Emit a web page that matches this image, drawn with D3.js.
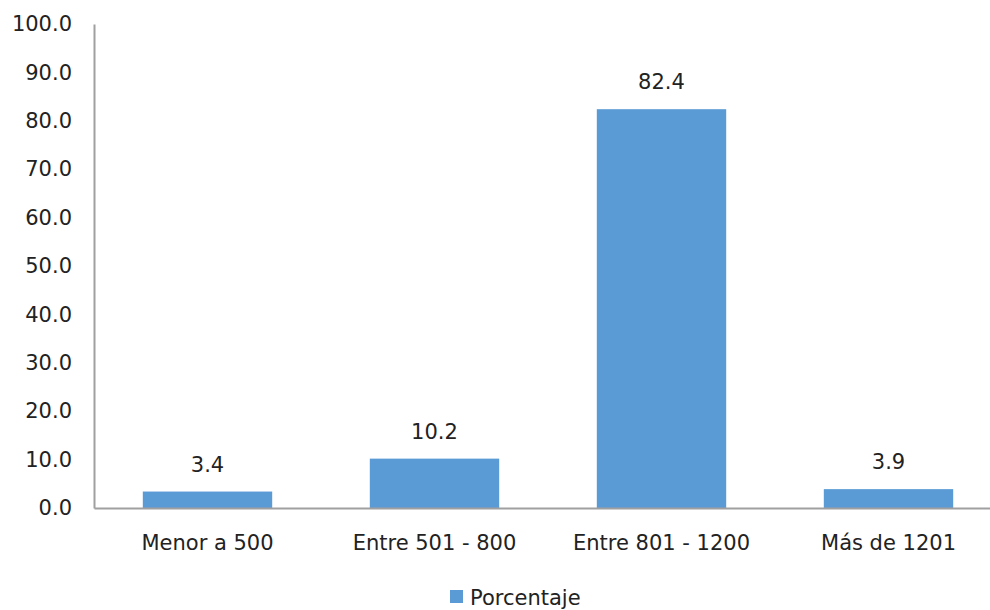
<!DOCTYPE html>
<html>
<meta charset="utf-8">
<style>
	body { margin: 0; padding: 0; background: #fff; }
	svg { display: block; font-family: "DejaVu Sans", Verdana, sans-serif; }
	.axis path, .axis line { stroke: #a0a0a0; }
	.axis text { fill: #222; font-size: 21px; font-family: "DejaVu Sans", sans-serif; }
</style>
<svg id="chart" width="990" height="610"></svg>
<script src="https://cdn.jsdelivr.net/npm/d3@7"></script>
<script>
var categories = ["Menor a 500", "Entre 501 - 800", "Entre 801 - 1200", "Más de 1201"];
var porcentaje = [3.4, 10.2, 82.4, 3.9];
var yTicks = [0, 10, 20, 30, 40, 50, 60, 70, 80, 90, 100];
var seriesName = "Porcentaje";

var svg = d3.select("#chart"),
	margin = {top: 24, left: 94},
	plotW = 908,
	plotH = 484,
	g = svg.append("g").attr("transform", "translate(" + margin.left + "," + margin.top + ")");

var x = d3.scaleBand().domain(categories).range([0, plotW]).paddingInner(0.43).paddingOuter(0.215);
var y = d3.scaleLinear().domain([0, 100]).range([plotH, 0]);

// y axis (no tick marks, just labels)
var yAxis = g.append("g")
	.attr("class", "axis")
	.call(d3.axisLeft(y).tickValues(yTicks).tickSize(0).tickPadding(22).tickFormat(d3.format(".1f")));
yAxis.select(".domain").attr("stroke-width", 2);

// bars
g.selectAll(".bar")
	.data(porcentaje)
  .enter().append("rect")
	.attr("class", "bar")
	.attr("x", function(d, i) { return x(categories[i]); })
	.attr("width", x.bandwidth())
	.attr("y", function(d) { return y(d); })
	.attr("height", function(d) { return plotH - y(d); })
	.attr("fill", "#5b9bd5");

// value labels
g.selectAll(".val")
	.data(porcentaje)
  .enter().append("text")
	.attr("class", "val")
	.attr("x", function(d, i) { return x(categories[i]) + x.bandwidth() / 2; })
	.attr("y", function(d) { return y(d) - 20; })
	.attr("text-anchor", "middle")
	.attr("fill", "#222")
	.style("font-size", "21px")
	.text(function(d) { return d.toFixed(1); });

// x axis
var xAxis = g.append("g")
	.attr("class", "axis")
	.attr("transform", "translate(0," + plotH + ")")
	.call(d3.axisBottom(x).tickSize(0).tickPadding(27));
xAxis.select(".domain").attr("stroke-width", 2);

// legend
var legend = svg.append("g").attr("transform", "translate(450,590)");
legend.append("rect").attr("width", 13).attr("height", 13).attr("fill", "#5b9bd5");
legend.append("text")
	.attr("x", 20).attr("y", 8).attr("dy", "0.35em")
	.attr("fill", "#222")
	.style("font-size", "21px")
	.text(seriesName);
</script>
</html>
